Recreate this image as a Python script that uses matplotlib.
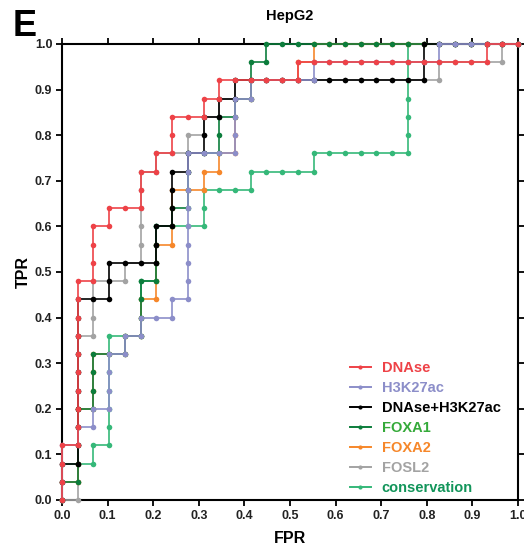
import matplotlib
matplotlib.use("Agg")
import matplotlib.pyplot as plt
from matplotlib.lines import Line2D

plt.rcParams["font.family"] = ["Liberation Sans", "DejaVu Sans"]

# ROC points as (false positives, true positives) counts
n_neg = 29
n_pos = 25

dnase = [(0, 0), (0, 1), (0, 2), (0, 3), (1, 3), (1, 4), (1, 5), (1, 6), (1, 7), (1, 8),
         (1, 9), (1, 10), (1, 11), (1, 12), (2, 12), (2, 13), (2, 14), (2, 15), (3, 15),
         (3, 16), (4, 16), (5, 16), (5, 17), (5, 18), (6, 18), (6, 19), (7, 19), (7, 20),
         (7, 21), (8, 21), (9, 21), (9, 22), (10, 22), (10, 23), (11, 23), (12, 23),
         (13, 23), (14, 23), (15, 23), (15, 24), (16, 24), (17, 24), (18, 24), (19, 24),
         (20, 24), (21, 24), (22, 24), (23, 24), (24, 24), (25, 24), (26, 24), (27, 24),
         (27, 25), (28, 25), (29, 25)]

h3k27ac = [(0, 0), (0, 1), (0, 2), (0, 3), (1, 3), (1, 4), (2, 4), (2, 5), (3, 5), (3, 6),
           (3, 7), (3, 8), (4, 8), (4, 9), (5, 9), (5, 10), (6, 10), (7, 10), (7, 11),
           (8, 11), (8, 12), (8, 13), (8, 14), (8, 15), (8, 16), (8, 17), (8, 18), (8, 19),
           (9, 19), (10, 19), (11, 19), (11, 20), (11, 21), (11, 22), (12, 22), (12, 23),
           (13, 23), (14, 23), (15, 23), (16, 23), (16, 24), (17, 24), (18, 24), (19, 24),
           (20, 24), (21, 24), (22, 24), (23, 24), (24, 24), (24, 25), (25, 25), (26, 25),
           (27, 25), (28, 25), (29, 25)]

dnase_h3k27ac = [(0, 0), (0, 1), (0, 2), (1, 2), (1, 3), (1, 4), (1, 5), (1, 6), (1, 7),
                 (1, 8), (1, 9), (1, 10), (1, 11), (2, 11), (3, 11), (3, 12), (3, 13),
                 (4, 13), (5, 13), (6, 13), (6, 14), (6, 15), (7, 15), (7, 16), (7, 17),
                 (7, 18), (8, 18), (8, 19), (9, 19), (9, 20), (9, 21), (10, 21), (10, 22),
                 (11, 22), (11, 23), (12, 23), (13, 23), (14, 23), (15, 23), (16, 23),
                 (17, 23), (18, 23), (19, 23), (20, 23), (21, 23), (22, 23), (23, 23),
                 (23, 24), (23, 25), (24, 25), (25, 25), (26, 25), (27, 25), (28, 25),
                 (29, 25)]

foxa1 = [(0, 0), (0, 1), (1, 1), (1, 2), (1, 3), (1, 4), (1, 5), (2, 5), (2, 6), (2, 7),
         (2, 8), (3, 8), (4, 8), (4, 9), (5, 9), (5, 10), (5, 11), (5, 12), (6, 12),
         (6, 13), (6, 14), (6, 15), (7, 15), (7, 16), (8, 16), (8, 17), (8, 18), (8, 19),
         (9, 19), (10, 19), (10, 20), (10, 21), (11, 21), (11, 22), (12, 22), (12, 23),
         (12, 24), (13, 24), (13, 25), (14, 25), (15, 25), (16, 25), (17, 25), (18, 25),
         (19, 25), (20, 25), (21, 25), (22, 25), (23, 25), (24, 25), (25, 25), (26, 25),
         (27, 25), (28, 25), (29, 25)]

foxa2 = [(0, 0), (0, 1), (1, 1), (1, 2), (1, 3), (1, 4), (1, 5), (2, 5), (2, 6), (2, 7),
         (2, 8), (3, 8), (4, 8), (4, 9), (5, 9), (5, 10), (5, 11), (6, 11), (6, 12),
         (6, 13), (6, 14), (7, 14), (7, 15), (7, 16), (7, 17), (8, 17), (9, 17), (9, 18),
         (10, 18), (10, 19), (11, 19), (11, 20), (11, 21), (11, 22), (12, 22), (12, 23),
         (13, 23), (14, 23), (15, 23), (15, 24), (16, 24), (16, 25), (17, 25), (18, 25),
         (19, 25), (20, 25), (21, 25), (22, 25), (23, 25), (24, 25), (25, 25), (26, 25),
         (27, 25), (28, 25), (29, 25)]

fosl2 = [(0, 0), (1, 0), (1, 1), (1, 2), (1, 3), (1, 4), (1, 5), (1, 6), (1, 7), (1, 8),
         (1, 9), (2, 9), (2, 10), (2, 11), (2, 12), (3, 12), (4, 12), (4, 13), (5, 13),
         (5, 14), (5, 15), (5, 16), (5, 17), (5, 18), (6, 18), (6, 19), (7, 19), (8, 19),
         (8, 20), (9, 20), (9, 21), (10, 21), (10, 22), (11, 22), (11, 23), (12, 23),
         (13, 23), (14, 23), (15, 23), (16, 23), (17, 23), (18, 23), (19, 23), (20, 23),
         (21, 23), (22, 23), (23, 23), (24, 23), (24, 24), (25, 24), (26, 24), (27, 24),
         (28, 24), (28, 25), (29, 25)]

conservation = [(0, 0), (0, 1), (0, 2), (1, 2), (2, 2), (2, 3), (3, 3), (3, 4), (3, 5),
                (3, 6), (3, 7), (3, 8), (3, 9), (4, 9), (5, 9), (5, 10), (5, 11), (5, 12),
                (6, 12), (6, 13), (6, 14), (6, 15), (7, 15), (8, 15), (9, 15), (9, 16),
                (9, 17), (10, 17), (11, 17), (12, 17), (12, 18), (13, 18), (14, 18),
                (15, 18), (16, 18), (16, 19), (17, 19), (18, 19), (19, 19), (20, 19),
                (21, 19), (22, 19), (22, 20), (22, 21), (22, 22), (22, 23), (22, 24),
                (22, 25), (23, 25), (24, 25), (25, 25), (26, 25), (27, 25), (28, 25),
                (29, 25)]

# label, points, line colour, legend text colour (legend order)
series = [
    ("DNAse", dnase, "#ee4247", "#ee4247"),
    ("H3K27ac", h3k27ac, "#8c8ec9", "#8c8ec9"),
    ("DNAse+H3K27ac", dnase_h3k27ac, "#000000", "#000000"),
    ("FOXA1", foxa1, "#0c7d3c", "#35aa3a"),
    ("FOXA2", foxa2, "#f6872a", "#f6872a"),
    ("FOSL2", fosl2, "#a3a3a3", "#a3a3a3"),
    ("conservation", conservation, "#35b879", "#12955a"),
]

fig = plt.figure(figsize=(5.24, 5.48), dpi=100)
ax = fig.add_axes([62 / 524, 48 / 548, 456 / 524, 456 / 548])

# last legend entry is at the bottom of the stack, DNAse on top
for z, (name, pts, col, tcol) in enumerate(reversed(series)):
    x = [p[0] / n_neg for p in pts]
    y = [p[1] / n_pos for p in pts]
    ax.plot(x, y, color=col, lw=1.4, alpha=0.85, zorder=2 + 2 * z, clip_on=False)
    ax.plot(x, y, "o", color=col, ms=4, mew=0, zorder=3 + 2 * z, clip_on=False)

ax.set_xlim(0, 1)
ax.set_ylim(0, 1)
ticks = [i / 10 for i in range(11)]
ax.set_xticks(ticks)
ax.set_yticks(ticks)
ax.set_xticklabels([f"{t:.1f}" for t in ticks], fontweight="bold", fontsize=9)
ax.set_yticklabels([f"{t:.1f}" for t in ticks], fontweight="bold", fontsize=9)
ax.tick_params(direction="out", length=4, width=1.3, top=True, right=True,
               colors="black", labelcolor="#222222", pad=3)
for s in ax.spines.values():
    s.set_linewidth(1.5)

ax.set_xlabel("FPR", fontsize=11.5, fontweight="bold", labelpad=7)
ax.set_ylabel("TPR", fontsize=11.5, fontweight="bold", labelpad=3)
ax.set_title("HepG2", fontsize=10.5, fontweight="bold", pad=17)
fig.text(13 / 524, 1 - 36 / 548, "E", fontsize=26, fontweight="bold")

handles = [Line2D([0], [0], color=c, lw=1.4, marker="o", ms=3, mew=0) for _, _, c, _ in series]
leg = ax.legend(handles, [s[0] for s in series], loc="lower left",
                bbox_to_anchor=(0.632, 0.01), frameon=False, borderpad=0,
                borderaxespad=0, handlelength=1.4, handletextpad=0.75,
                labelspacing=0.42, prop={"weight": "bold", "size": 10.5})
for txt, s in zip(leg.get_texts(), series):
    txt.set_color(s[3])

fig.savefig("out.png", dpi=100)
